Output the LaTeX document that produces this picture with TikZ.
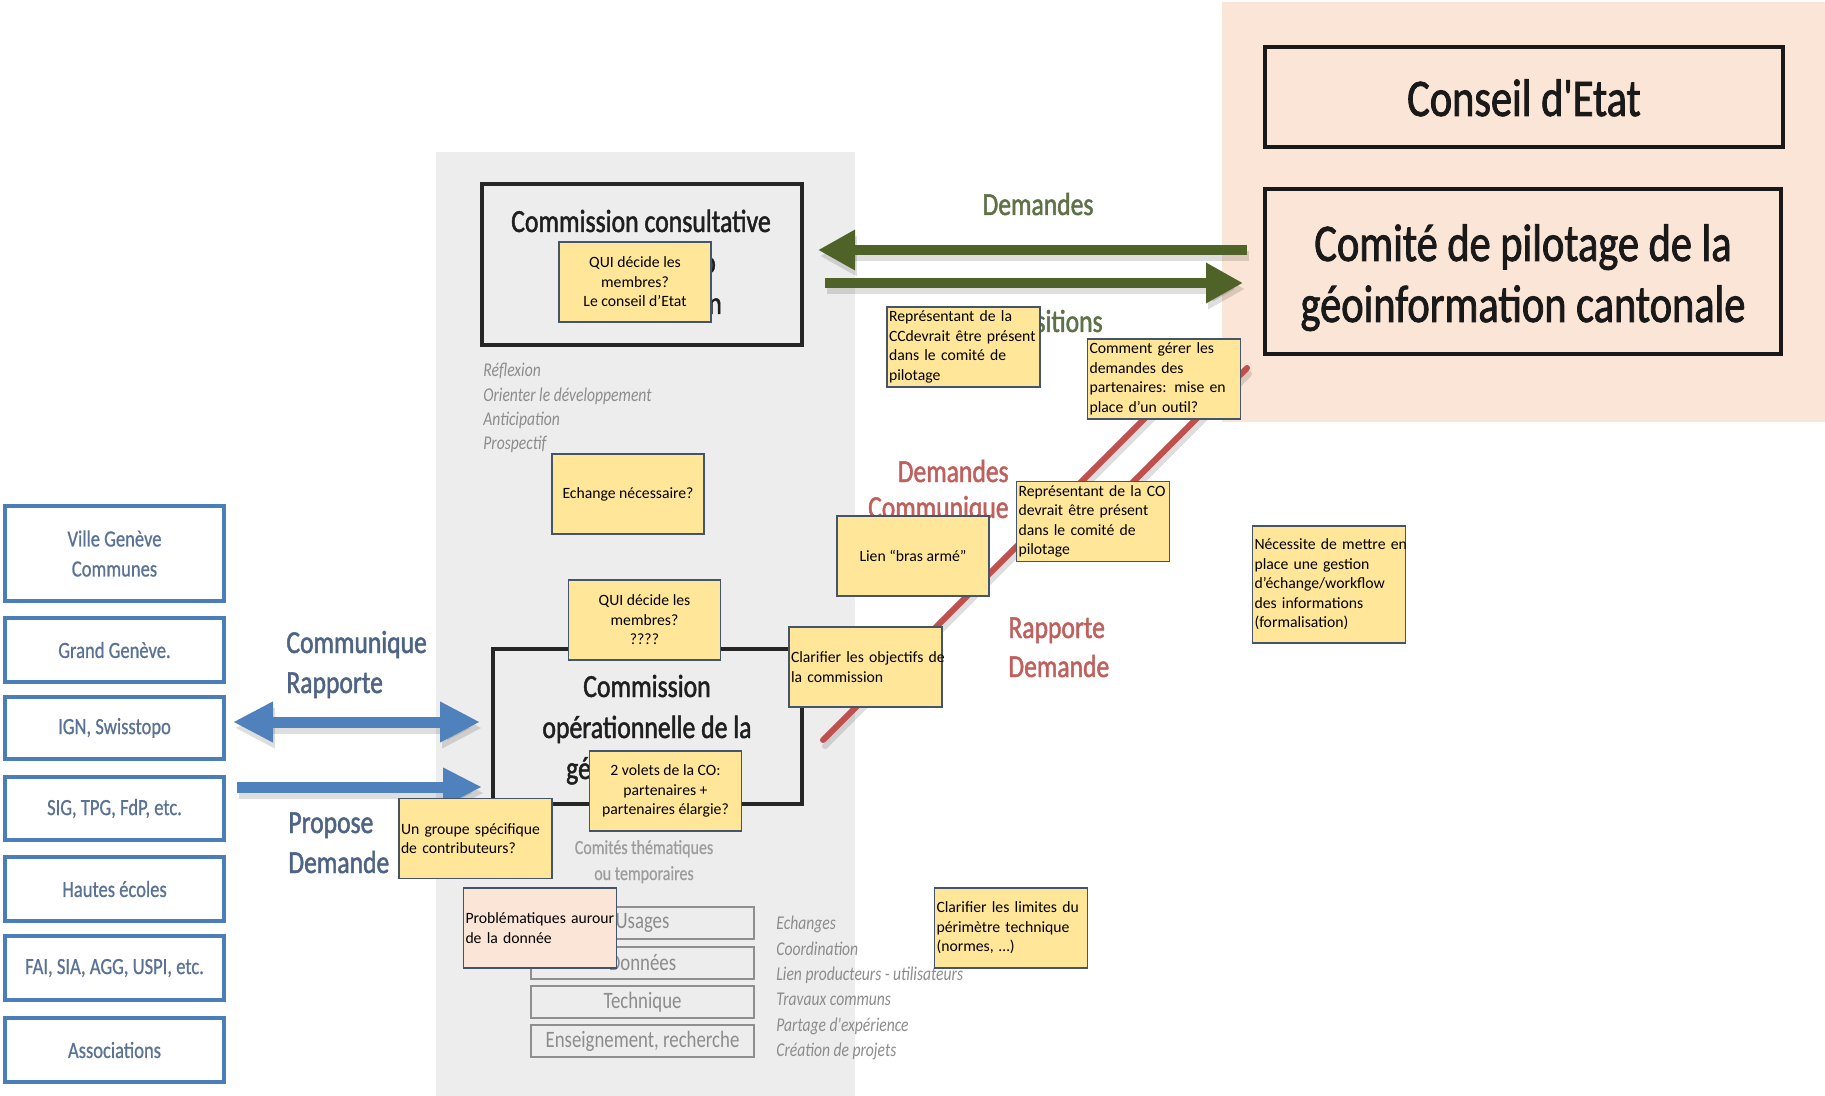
\documentclass[tikz,border=0pt]{standalone}
\usepackage{fontspec}
\setmainfont{Carlito}
\newfontfamily\slidefont[FakeStretch=0.8]{Carlito}
\newfontfamily\slidebold[FakeStretch=0.8,FakeBold=1.5]{Carlito}
\newfontfamily\slidemed[FakeStretch=0.8,FakeBold=0.7]{Carlito}
\usetikzlibrary{arrows.meta}
\definecolor{peach}{HTML}{FBE5D6}
\definecolor{panelgray}{HTML}{EDEDED}
\definecolor{noteyel}{HTML}{FFE699}
\definecolor{notebd}{HTML}{44546A}
\definecolor{olive}{HTML}{4F6228}
\definecolor{olivetxt}{HTML}{5F7147}
\definecolor{redl}{HTML}{C0504D}
\definecolor{redtxt}{HTML}{C0605D}
\definecolor{blueA}{HTML}{4F81BD}
\definecolor{bluebd}{HTML}{4A7EBB}
\definecolor{bluetxt}{HTML}{5A7296}
\definecolor{bluelbl}{HTML}{4E6485}
\definecolor{graytxt}{HTML}{8C8C8C}
\definecolor{graybd}{HTML}{8F8F8F}
\begin{document}
\begin{tikzpicture}[x=0.5pt,y=-0.5pt,
  note/.style={draw=notebd, line width=0.85pt, fill=noteyel, inner xsep=1pt, inner ysep=0pt, font=\fontsize{7.85}{9.75}\selectfont, text=black},
  notec/.style={note, align=center, minimum width=76pt, minimum height=40pt},
  notel/.style={note, align=left, text width=74.5pt, minimum height=40pt},
  bigtxt/.style={inner sep=0pt, anchor=base, text=black!90, font=\slidebold\fontsize{26.5}{30}\selectfont},
  comtxt/.style={inner sep=0pt, anchor=base, text=black!88, font=\slidebold\fontsize{16.1}{20}\selectfont},
  lbl/.style={inner sep=0pt, font=\slidebold\fontsize{16}{19}\selectfont},
  itl/.style={inner sep=0pt, anchor=base west, text=graytxt, font=\slidefont\itshape\fontsize{9.75}{12}\selectfont},
  bluebox/.style={draw=bluebd, line width=1.7pt, fill=white, text=bluetxt, minimum width=109.5pt, align=center, inner sep=0pt, font=\slidemed\fontsize{11.6}{15}\selectfont},
  smallbox/.style={draw=graybd, line width=1.2pt, minimum width=111.5pt, minimum height=16pt, inner sep=0pt, text=graytxt, font=\slidefont\fontsize{11.75}{14}\selectfont},
  combox/.style={draw=black!85, line width=2pt},
  bigbox/.style={draw=black!90, line width=1.8pt},
  bluearrow/.style={blueA, line width=5.5pt},
  greenarrow/.style={olive, line width=5pt},
  shadowline/.style={black, opacity=0.13, transform canvas={shift={(1pt,-3pt)}}},
  redline/.style={redl, line width=3pt, line cap=round}
]
\useasboundingbox (0,0) rectangle (1825,1096);
\fill[white] (0,0) rectangle (1825,1096);
% backgrounds
\fill[peach] (1222,2) rectangle (1825,422);
\fill[panelgray] (436,152) rectangle (855,1096);

% right boxes
\node[bigbox, minimum width=259pt, minimum height=50pt] (ce) at (1524,97) {};
\node[bigtxt] (cet) at (1524,116) {Conseil d'Etat};
\node[bigbox, minimum width=258pt, minimum height=82.5pt] (cp) at (1523,271.5) {};
\node[bigtxt] (cpt1) at (1523,261) {Comité de pilotage de la};
\node[bigtxt] (cpt2) at (1523,322) {géoinformation cantonale};

% commission consultative
\node[combox, minimum width=160pt, minimum height=80.5pt] (cc) at (642,264.5) {};
\node[comtxt] (cct1) at (641,232) {Commission consultative};
\node[comtxt] (cct2) at (709,273) {o};
\node[comtxt] (cct3) at (641,314) {géoinformation};

\foreach \t/\y [count=\i] in {Réflexion/377, Orienter le développement/401, Anticipation/426, Prospectif/450}
  \node[itl] (r\i) at (483,\y) {\t};

% commission operationnelle
\node[combox, minimum width=154.5pt, minimum height=77.5pt] (co) at (647.5,726.5) {};
\node[comtxt] (cot1) at (647,697) {Commission};
\node[comtxt] (cot2) at (647,738) {opérationnelle de la};
\node[comtxt] (cot3) at (647,779) {géoinformation};

\node[inner sep=0pt, anchor=base, text=graytxt!85, font=\slidemed\fontsize{10}{13}\selectfont] (ct1) at (644,854) {Comités thématiques};
\node[inner sep=0pt, anchor=base, text=graytxt!85, font=\slidemed\fontsize{10}{13}\selectfont] (ct2) at (644,880) {ou temporaires};

\node[smallbox] (s1) at (642.5,923) {Usages};
\node[smallbox] (s2) at (642.5,963) {Données};
\node[smallbox] (s3) at (642.5,1002) {Technique};
\node[smallbox] (s4) at (642.5,1041) {Enseignement, recherche};

\foreach \t/\y [count=\i] in {Echanges/929, Coordination/955, Lien producteurs - utilisateurs/980, Travaux communs/1005, Partage d'expérience/1031, Création de projets/1056}
  \node[itl] (e\i) at (776,\y) {\t};

% left boxes
\node[bluebox, minimum height=47.5pt] (b1) at (114.5,553.5) {Ville Genève\\Communes};
\node[bluebox, minimum height=32pt] (b2) at (114.5,650) {Grand Genève.};
\node[bluebox, minimum height=31pt] (b3) at (114.5,728) {IGN, Swisstopo};
\node[bluebox, minimum height=31.5pt] (b4) at (114.5,808.5) {SIG, TPG, FdP, etc.};
\node[bluebox, minimum height=32pt] (b5) at (114.5,889) {Hautes écoles};
\node[bluebox, minimum height=32pt] (b6) at (114.5,968) {FAI, SIA, AGG, USPI, etc.};
\node[bluebox, minimum height=32pt] (b7) at (114.5,1050) {Associations};

% labels
\node[lbl, anchor=base, text=olivetxt] (gl1) at (1038,215) {Demandes};
\node[lbl, anchor=base, text=olivetxt] (gl2) at (1038,332) {Propositions};
\node[lbl, anchor=base east, text=redtxt] (rl1) at (1009,482) {Demandes};
\node[lbl, anchor=base east, text=redtxt] (rl2) at (1009,518) {Communique};
\node[lbl, anchor=base west, text=redtxt] (rl3) at (1008,638) {Rapporte};
\node[lbl, anchor=base west, text=redtxt] (rl4) at (1008,677) {Demande};
\node[lbl, anchor=base west, text=bluelbl] (bl1) at (286,653) {Communique};
\node[lbl, anchor=base west, text=bluelbl] (bl2) at (286,693) {Rapporte};
\node[lbl, anchor=base west, text=bluelbl] (bl3) at (288,833) {Propose};
\node[lbl, anchor=base west, text=bluelbl] (bl4) at (288,873) {Demande};

% arrows
\coordinate (ga1) at (1247,250); \coordinate (ga2) at (818,250);
\coordinate (gb1) at (825,283); \coordinate (gb2) at (1243,283);
\draw[shadowline, line width=5pt, -{Triangle[length=18.5pt,width=19pt]}] (ga1) -- (ga2);
\draw[shadowline, line width=5pt, -{Triangle[length=18.5pt,width=19pt]}] (gb1) -- (gb2);
\draw[greenarrow, -{Triangle[length=18.5pt,width=19pt]}] (ga1) -- (ga2);
\draw[greenarrow, -{Triangle[length=18.5pt,width=19pt]}] (gb1) -- (gb2);
\coordinate (ba1) at (233,722); \coordinate (ba2) at (480,722);
\coordinate (bb1) at (237,787); \coordinate (bb2) at (482,787);
\draw[shadowline, line width=5.5pt, {Triangle[length=20pt,width=19pt]}-{Triangle[length=20pt,width=19pt]}] (ba1) -- (ba2);
\draw[shadowline, line width=5.5pt, -{Triangle[length=19.5pt,width=18pt]}] (bb1) -- (bb2);
\draw[bluearrow, {Triangle[length=20pt,width=19pt]}-{Triangle[length=20pt,width=19pt]}] (ba1) -- (ba2);
\draw[bluearrow, -{Triangle[length=19.5pt,width=18pt]}] (bb1) -- (bb2);
\coordinate (ra1) at (823,740); \coordinate (ra2) at (1196,367);
\coordinate (rb1) at (1062,553); \coordinate (rb2) at (1247,368);
\draw[shadowline, line width=3pt, line cap=round] (ra1) -- (ra2);
\draw[shadowline, line width=3pt, line cap=round] (rb1) -- (rb2);
\draw[redline] (ra1) -- (ra2);
\draw[redline] (rb1) -- (rb2);

% sticky notes
\node[notec] (n1) at (635,282) {QUI décide les\\membres?\\Le conseil d’Etat};
\node[notel] (n2) at (963.5,347) {\mbox{Représentant de la}\\\mbox{CCdevrait être présent}\\\mbox{dans le comité de}\\pilotage};
\node[notel] (n3) at (1164,379) {\mbox{Comment gérer les}\\\mbox{demandes des}\\\mbox{partenaires: mise en}\\\mbox{place d’un outil?}};
\node[notec] (n4) at (628,494) {Echange nécessaire?};
\node[notel] (n5) at (1093,521.5) {\mbox{Représentant de la CO}\\\mbox{devrait être présent}\\\mbox{dans le comité de}\\pilotage};
\node[notec] (n6) at (913,556) {Lien “bras armé”};
\node[notel, minimum height=58.5pt] (n7) at (1329,584.5) {\mbox{Nécessite de mettre en}\\\mbox{place une gestion}\\\mbox{d’échange/workflow}\\\mbox{des informations}\\(formalisation)};
\node[notec] (n8) at (644.5,620) {QUI décide les\\membres?\\????};
\node[notel] (n9) at (865.5,667) {\mbox{Clarifier les objectifs de}\\\mbox{la commission}};
\node[notec] (n10) at (665.5,791) {2 volets de la CO:\\partenaires +\\partenaires élargie?};
\node[notel] (n11) at (475.5,838.5) {\mbox{Un groupe spécifique}\\\mbox{de contributeurs?}};
\node[notel, fill=peach] (n12) at (540,928) {\mbox{Problématiques aurour}\\\mbox{de la donnée}};
\node[notel] (n13) at (1011,928) {\mbox{Clarifier les limites du}\\\mbox{périmètre technique}\\(normes, …)};
\end{tikzpicture}
\end{document}
